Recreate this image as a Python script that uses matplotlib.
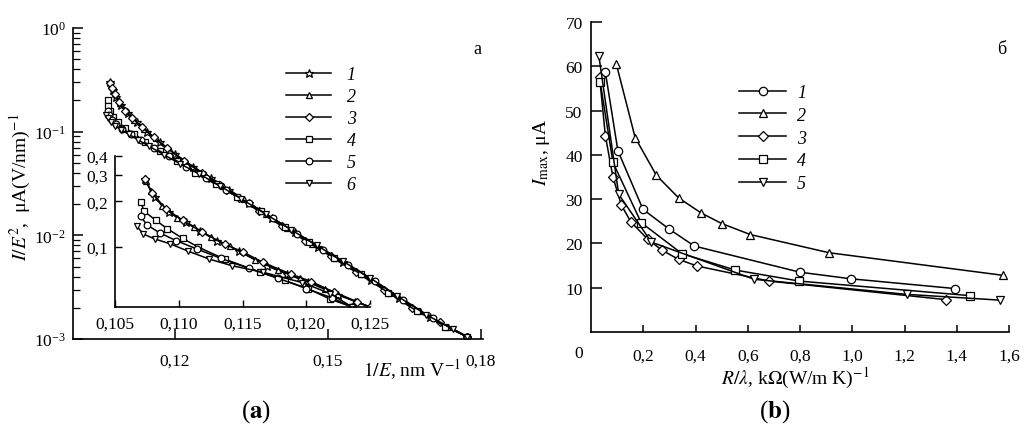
import numpy as np
import matplotlib
matplotlib.use("Agg")
import matplotlib.pyplot as plt
from matplotlib.ticker import FixedLocator, NullLocator, LogLocator, NullFormatter

plt.rcParams['font.family'] = ['Liberation Serif', 'DejaVu Serif']
plt.rcParams['mathtext.fontset'] = 'stix'

# ---- panel (a), main plot: 1/E vs I/E^2
a1_x = [0.1073, 0.1078, 0.1085, 0.1095, 0.1108, 0.1125, 0.1145, 0.1170, 0.1200, 0.1235, 0.1270,
        0.1305, 0.1345, 0.1390, 0.1435, 0.1480, 0.1530, 0.1585, 0.1640, 0.1700, 0.1773]
a1_y = [0.300, 0.255, 0.215, 0.180, 0.150, 0.124, 0.100, 0.079, 0.061, 0.046, 0.036,
        0.0275, 0.0205, 0.0148, 0.0107, 0.0078, 0.0055, 0.0037, 0.0025, 0.00163, 0.00105]
a2_x = [0.1075, 0.1082, 0.1092, 0.1105, 0.1120, 0.1140, 0.1162, 0.1190, 0.1222, 0.1258, 0.1295,
        0.1335, 0.1378, 0.1420, 0.1468, 0.1515, 0.1565, 0.1620, 0.1680, 0.1735, 0.1773]
a2_y = [0.285, 0.235, 0.190, 0.158, 0.131, 0.106, 0.086, 0.066, 0.051, 0.039, 0.030,
        0.0222, 0.0160, 0.0118, 0.0083, 0.0060, 0.0042, 0.0028, 0.00185, 0.00130, 0.00105]
a3_x = [0.1072, 0.1076, 0.1082, 0.1090, 0.1102, 0.1116, 0.1135, 0.1158, 0.1185, 0.1218, 0.1252,
        0.1288, 0.1325, 0.1365, 0.1410, 0.1455, 0.1505, 0.1555, 0.1610, 0.1665, 0.1720, 0.1773]
a3_y = [0.295, 0.265, 0.230, 0.195, 0.160, 0.136, 0.110, 0.088, 0.069, 0.052, 0.040,
        0.0305, 0.0230, 0.0170, 0.0122, 0.0089, 0.0063, 0.0044, 0.0030, 0.0020, 0.00145, 0.00105]
a4_x = [0.1068, 0.1069, 0.1072, 0.1078, 0.1088, 0.1102, 0.1120, 0.1142, 0.1170, 0.1203, 0.1240,
        0.1280, 0.1322, 0.1368, 0.1415, 0.1462, 0.1512, 0.1565, 0.1618, 0.1675, 0.1730, 0.1773]
a4_y = [0.200, 0.178, 0.158, 0.140, 0.124, 0.109, 0.095, 0.080, 0.065, 0.052, 0.040,
        0.031, 0.0235, 0.0170, 0.0121, 0.0087, 0.0061, 0.0042, 0.0028, 0.00185, 0.00132, 0.00105]
a5_x = [0.1069, 0.1071, 0.1076, 0.1085, 0.1097, 0.1113, 0.1133, 0.1158, 0.1188, 0.1222, 0.1260,
        0.1300, 0.1345, 0.1392, 0.1440, 0.1490, 0.1540, 0.1592, 0.1648, 0.1705, 0.1773]
a5_y = [0.160, 0.145, 0.131, 0.119, 0.107, 0.095, 0.083, 0.070, 0.058, 0.046, 0.036,
        0.0275, 0.0204, 0.0146, 0.0104, 0.0073, 0.0052, 0.0036, 0.0024, 0.00158, 0.00105]
a6_x = [0.1065, 0.1068, 0.1074, 0.1083, 0.1095, 0.1110, 0.1128, 0.1150, 0.1178, 0.1210, 0.1248,
        0.1288, 0.1330, 0.1378, 0.1428, 0.1478, 0.1530, 0.1582, 0.1636, 0.1692, 0.1745, 0.1773]
a6_y = [0.145, 0.134, 0.124, 0.114, 0.104, 0.094, 0.083, 0.072, 0.060, 0.049, 0.039,
        0.0300, 0.0225, 0.0160, 0.0113, 0.0080, 0.0056, 0.0039, 0.0026, 0.00172, 0.00125, 0.00105]

# ---- panel (a), inset
i1_x = [0.10735, 0.1081, 0.1092, 0.1106, 0.1117, 0.1130, 0.1147, 0.1169, 0.1185, 0.1201, 0.1225, 0.1250]
i1_y = [0.280, 0.214, 0.171, 0.146, 0.128, 0.1095, 0.094, 0.075, 0.066, 0.0586, 0.048, 0.040]
i2_x = [0.1074, 0.1078, 0.1087, 0.1099, 0.1112, 0.1125, 0.1140, 0.1160, 0.1178, 0.1195, 0.1215, 0.1238, 0.1250]
i2_y = [0.275, 0.235, 0.186, 0.155, 0.135, 0.116, 0.101, 0.082, 0.070, 0.062, 0.053, 0.044, 0.040]
i3_x = [0.10738, 0.1079, 0.1090, 0.1103, 0.1118, 0.1136, 0.1150, 0.1166, 0.1188, 0.1204, 0.1222, 0.1240, 0.1250]
i3_y = [0.282, 0.228, 0.178, 0.150, 0.126, 0.104, 0.093, 0.079, 0.066, 0.059, 0.050, 0.043, 0.040]
i4_x = [0.1070, 0.1073, 0.1082, 0.1091, 0.1103, 0.1115, 0.1136, 0.1164, 0.1183, 0.1201, 0.1219, 0.1236]
i4_y = [0.199, 0.172, 0.150, 0.132, 0.114, 0.100, 0.083, 0.068, 0.060, 0.053, 0.045, 0.040]
i5_x = [0.1070, 0.1075, 0.1085, 0.1098, 0.1114, 0.1133, 0.1155, 0.1178, 0.1200, 0.1220, 0.1236]
i5_y = [0.160, 0.140, 0.124, 0.110, 0.097, 0.084, 0.072, 0.062, 0.053, 0.046, 0.040]
i6_x = [0.1067, 0.1072, 0.1081, 0.1093, 0.1107, 0.1124, 0.1142, 0.1166, 0.1197, 0.1219, 0.1236]
i6_y = [0.138, 0.122, 0.113, 0.105, 0.094, 0.083, 0.075, 0.068, 0.058, 0.049, 0.040]

labels_a = ['1', '2', '3', '4', '5', '6']
markers_a = ['*', '^', 'D', 's', 'o', 'v']

# ---- panel (b): R/lambda vs I_max
b1_x = [0.055, 0.103, 0.199, 0.300, 0.396, 0.800, 0.997, 1.395]
b1_y = [58.7, 40.9, 27.7, 23.2, 19.4, 13.5, 12.0, 9.8]
b2_x = [0.097, 0.169, 0.250, 0.335, 0.421, 0.500, 0.610, 0.911, 1.577]
b2_y = [60.5, 43.9, 35.4, 30.3, 26.9, 24.5, 22.0, 17.9, 12.8]
b3_x = [0.033, 0.055, 0.084, 0.116, 0.152, 0.218, 0.271, 0.335, 0.406, 0.682, 1.360]
b3_y = [57.5, 44.3, 35.0, 28.7, 24.9, 20.9, 18.5, 16.4, 14.9, 11.5, 7.3]
b4_x = [0.035, 0.084, 0.192, 0.348, 0.551, 0.797, 1.452]
b4_y = [56.5, 38.3, 24.7, 17.7, 14.0, 11.5, 8.2]
b5_x = [0.030, 0.106, 0.231, 0.625, 1.208, 1.564]
b5_y = [62.4, 31.1, 20.3, 11.9, 8.5, 7.2]

labels_b = ['1', '2', '3', '4', '5']
markers_b = ['o', '^', 'D', 's', 'v']

W, H = 1024, 439
fig = plt.figure(figsize=(W / 100, H / 100), dpi=100)


def px_box(x0, y0, x1, y1):
    return [x0 / W, 1 - y1 / H, (x1 - x0) / W, (y1 - y0) / H]


def mstyle(m, scale=1.0):
    size = {'*': 8, '^': 6, 'D': 5, 's': 5.5, 'o': 6, 'v': 6}[m] * scale
    return dict(marker=m, ms=size, mfc='white', mec='black', mew=0.9, color='black', lw=1.1)


def clean_axes(ax):
    for s in ['top', 'right']:
        ax.spines[s].set_visible(False)
    for s in ['left', 'bottom']:
        ax.spines[s].set_linewidth(1.2)


TICK = 12.5
LAB = 14

# main (a)
ax = fig.add_axes(px_box(73, 29, 483, 340))
clean_axes(ax)
series_a = [(a1_x, a1_y), (a2_x, a2_y), (a3_x, a3_y), (a4_x, a4_y), (a5_x, a5_y), (a6_x, a6_y)]
handles = []
for (x, y), m, lab in zip(series_a, markers_a, labels_a):
    h, = ax.plot(x, y, label=lab, **mstyle(m, 0.8))
    handles.append(h)
ax.set_yscale('log')
ax.set_ylim(1e-3, 1)
ax.set_xlim(0.100, 0.1804)
ax.set_xticks([0.12, 0.15, 0.18])
ax.set_xticklabels(['0,12', '0,15', '0,18'])
ax.yaxis.set_major_locator(FixedLocator([1e-3, 1e-2, 1e-1, 1]))
ax.yaxis.set_minor_locator(LogLocator(base=10, subs=np.arange(2, 10)))
ax.yaxis.set_minor_formatter(NullFormatter())
ax.tick_params(axis='both', which='major', direction='in', length=7, width=1.1, labelsize=TICK)
ax.tick_params(axis='y', which='minor', direction='in', length=5, width=0.9)
ax.tick_params(axis='x', pad=10)
ax.tick_params(axis='y', pad=5)
ax.patch.set_alpha(0)

ax.legend(handles=handles, loc='upper left', bbox_to_anchor=(0.52, 0.878), frameon=False,
          prop={'family': 'Liberation Serif', 'style': 'italic', 'size': 13},
          handlelength=2.5, handletextpad=0.85, labelspacing=0.28, borderpad=0, borderaxespad=0)

fig.text(477 / W, 1 - 49 / H, 'a', ha='center', va='center', fontsize=13)
fig.text(20 / W, 1 - 187 / H, r'$I/E^2$,  μA(V/nm)$^{-1}$', rotation=90, ha='center', va='center',
         fontsize=LAB)
fig.text(412 / W, 1 - 370 / H, r'$1/E$, nm V$^{-1}$', ha='center', va='center', fontsize=LAB)
fig.text(256 / W, 1 - 412 / H, r'($\mathbf{a}$)', ha='center', va='center', fontsize=18)

# inset (a)
ins = fig.add_axes(px_box(115, 157, 370, 308))
clean_axes(ins)
ins.patch.set_alpha(0)
series_i = [(i1_x, i1_y), (i2_x, i2_y), (i3_x, i3_y), (i4_x, i4_y), (i5_x, i5_y), (i6_x, i6_y)]
for (x, y), m in zip(series_i, markers_a):
    ins.plot(x, y, **mstyle(m, 0.8))
ins.set_yscale('log')
ins.set_ylim(0.04, 0.4)
ins.set_xlim(0.105, 0.125)
ins.yaxis.set_major_locator(FixedLocator([0.1, 0.2, 0.3, 0.4]))
ins.yaxis.set_minor_locator(NullLocator())
ins.set_yticklabels(['0,1', '0,2', '0,3', '0,4'])
ins.set_xticks([0.105, 0.110, 0.115, 0.120, 0.125])
ins.set_xticklabels(['0,105', '0,110', '0,115', '0,120', '0,125'])
ins.tick_params(axis='both', direction='in', length=5, width=1.0, labelsize=TICK)
ins.tick_params(axis='x', pad=6)
ins.tick_params(axis='y', pad=5)

# panel (b)
bx = fig.add_axes(px_box(591, 23, 1009, 333))
clean_axes(bx)
series_b = [(b1_x, b1_y), (b2_x, b2_y), (b3_x, b3_y), (b4_x, b4_y), (b5_x, b5_y)]
hb = []
for (x, y), m, lab in zip(series_b, markers_b, labels_b):
    h, = bx.plot(x, y, label=lab, **mstyle(m))
    hb.append(h)
bx.set_xlim(0, 1.6)
bx.set_ylim(0, 70)
bx.set_xticks([0.2, 0.4, 0.6, 0.8, 1.0, 1.2, 1.4, 1.6])
bx.set_xticklabels(['0,2', '0,4', '0,6', '0,8', '1,0', '1,2', '1,4', '1,6'])
bx.set_yticks([10, 20, 30, 40, 50, 60, 70])
bx.tick_params(axis='both', direction='in', width=1.1, labelsize=TICK)
bx.tick_params(axis='y', length=8, pad=6)
bx.tick_params(axis='x', length=5, pad=11)
bx.annotate('0', xy=(0, 0), xycoords='data', xytext=(-9, -15), textcoords='offset points',
            ha='center', va='center', fontsize=TICK)
bx.legend(handles=hb, loc='upper left', bbox_to_anchor=(0.355, 0.80), frameon=False,
          prop={'family': 'Liberation Serif', 'style': 'italic', 'size': 13},
          handlelength=2.6, handletextpad=0.6, labelspacing=0.32, borderpad=0, borderaxespad=0)

fig.text(1002 / W, 1 - 49 / H, 'б', ha='center', va='center', fontsize=13)
fig.text(542 / W, 1 - 152 / H, r'$I_{\rm max}$, μA', rotation=90, ha='center', va='center', fontsize=LAB)
fig.text(795 / W, 1 - 378 / H, r'$R/\lambda$, k$\Omega$(W/m K)$^{-1}$', ha='center', va='center', fontsize=LAB)
fig.text(775 / W, 1 - 412 / H, r'($\mathbf{b}$)', ha='center', va='center', fontsize=18)

fig.savefig('out.png', dpi=100)
